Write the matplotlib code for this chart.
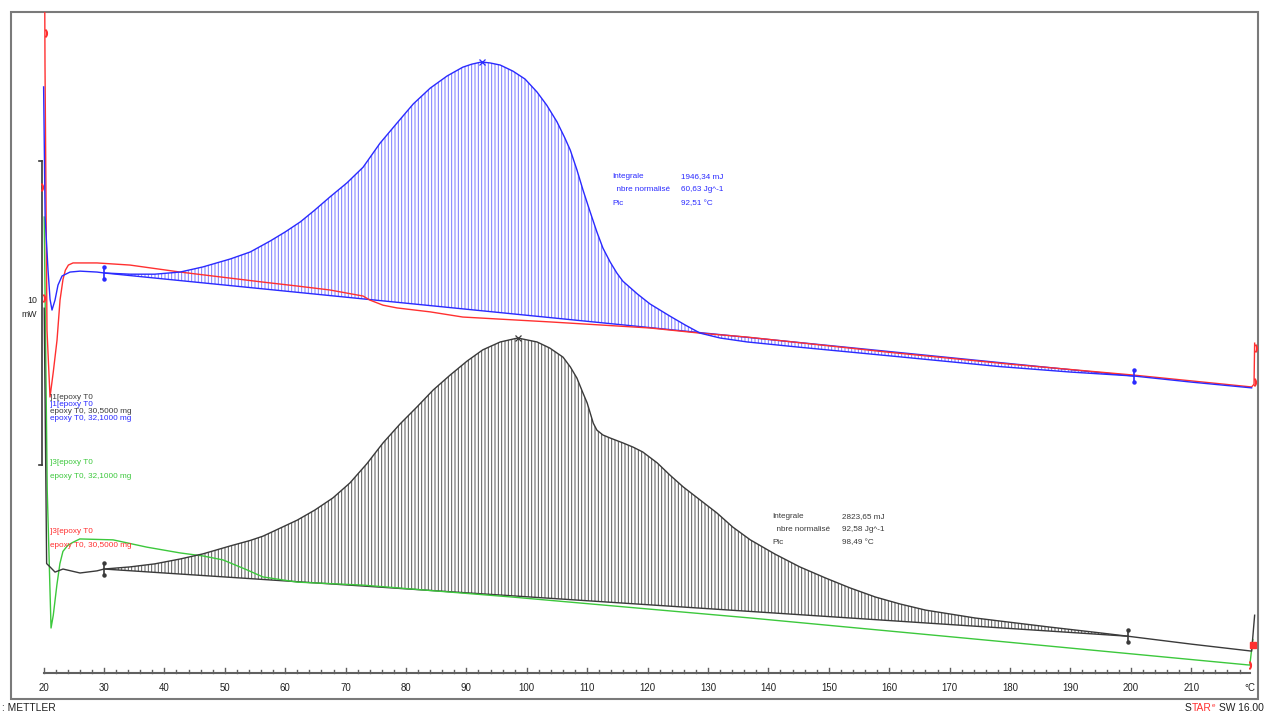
import numpy as np
import matplotlib
matplotlib.use("Agg")
import matplotlib.pyplot as plt
from matplotlib.patches import Rectangle

# ---------------- data (temperature in °C, heat flow in mW, arbitrary offsets) -------------
blue_T = [20.0, 20.25, 20.73, 21.06, 21.39, 21.89, 22.38, 23.05, 24.37, 26.03, 28.84, 30.0,
          34.3, 38.4, 42.6, 46.4, 50.9, 54.2, 57.5, 60.0, 62.5, 64.9, 67.4, 70.2, 72.9, 75.7,
          78.5, 81.2, 84.0, 86.8, 89.4, 90.9, 92.5, 93.9, 95.6, 97.7, 99.7, 101.7, 103.3,
          105.0, 106.3, 107.2, 108.3, 109.3, 110.5, 111.6, 112.6, 113.8, 114.9, 115.9, 118.3,
          120.4, 123.7, 126.2, 128.7, 132.0, 136.5, 145.0, 161.8, 178.3, 190.0, 200.5, 210.0,
          220.0]
blue_mW = [19.28, 15.0, 13.26, 12.3, 11.94, 12.27, 12.76, 13.06, 13.19, 13.22, 13.19, 13.16,
           13.12, 13.12, 13.19, 13.36, 13.62, 13.85, 14.21, 14.51, 14.84, 15.23, 15.66, 16.12,
           16.64, 17.43, 18.09, 18.72, 19.24, 19.64, 19.93, 20.03, 20.10, 20.07, 20.0, 19.80,
           19.54, 19.11, 18.68, 18.13, 17.60, 17.20, 16.55, 15.89, 15.16, 14.51, 13.98, 13.52,
           13.16, 12.89, 12.47, 12.14, 11.74, 11.45, 11.18, 11.02, 10.89, 10.72, 10.40, 10.08,
           9.90, 9.77, 9.57, 9.38]

red_T = [20.15, 20.23, 20.56, 21.06, 21.6, 22.22, 22.72, 23.21, 23.6, 24.1, 24.87, 28.84, 34.3,
         42.6, 56.3, 62.0, 67.4, 72.9, 74.0, 76.2, 78.5, 84.0, 89.4, 103.8, 120.4, 128.7,
         136.5, 160.0, 180.0, 200.5, 220.0, 220.4, 220.5]
red_mW = [24.0, 20.0, 11.28, 9.08, 9.9, 10.95, 12.27, 12.95, 13.25, 13.42, 13.49, 13.49, 13.42,
          13.19, 12.86, 12.73, 12.60, 12.40, 12.27, 12.10, 12.01, 11.88, 11.71, 11.55, 11.35,
          11.18, 11.05, 10.55, 10.16, 9.80, 9.41, 9.5, 10.85]

black_T = [20.1, 20.5, 21.06, 21.89, 23.21, 26.03, 28.84, 30.0, 34.3, 38.4, 42.6, 46.4, 50.9,
           54.2, 56.3, 59.1, 62.0, 64.9, 67.9, 70.7, 73.5, 76.2, 79.0, 81.8, 84.5, 87.3, 90.1,
           92.7, 95.6, 98.5, 101.7, 103.8, 106.0, 107.2, 108.3, 109.3, 110.0, 110.5, 111.0,
           111.6, 112.6, 113.8, 115.9, 117.6, 119.2, 121.6, 123.7, 125.9, 128.7, 131.5, 134.1,
           137.0, 141.1, 145.2, 149.4, 153.5, 157.7, 161.8, 166.0, 170.1, 174.2, 178.3, 186.6,
           194.9, 199.5, 210.0, 220.0, 220.5]
black_mW = [12.0, 3.6, 3.49, 3.32, 3.42, 3.29, 3.36, 3.42, 3.49, 3.59, 3.75, 3.92, 4.18,
            4.36, 4.50, 4.76, 5.03, 5.36, 5.76, 6.25, 6.88, 7.57, 8.19, 8.75, 9.31, 9.80, 10.26,
            10.63, 10.89, 11.02, 10.89, 10.69, 10.39, 10.07, 9.70, 9.21, 8.88, 8.55, 8.22, 7.99,
            7.83, 7.73, 7.57, 7.43, 7.27, 6.91, 6.51, 6.12, 5.69, 5.26, 4.80, 4.38, 3.91, 3.49,
            3.13, 2.80, 2.50, 2.27, 2.07, 1.94, 1.81, 1.71, 1.51, 1.32, 1.21, 0.95, 0.72, 1.9]

green_T = [20.1, 20.6, 21.23, 21.6, 22.2, 22.7, 23.2, 24.0, 24.87, 26.0, 31.5, 37.1, 42.6,
           46.4, 49.7, 53.7, 56.3, 62.0, 72.9, 97.5, 137.0, 178.3, 219.7, 220.2]
green_mW = [15.0, 6.0, 1.48, 1.9, 2.9, 3.6, 4.0, 4.2, 4.3, 4.41, 4.38, 4.14, 3.95, 3.85,
            3.72, 3.39, 3.16, 2.99, 2.89, 2.50, 1.81, 1.04, 0.26, 1.1]

blue_lim_T = [30.0, 200.5]
blue_lim_mW = [13.16, 9.77]
black_lim_T = [30.0, 199.5]
black_lim_mW = [3.42, 1.21]
blue_peak = (92.5, 20.10)
black_peak = (98.5, 11.02)

blue_result_labels = ["Integrale", "  nbre normalisé", "Pic"]
blue_result_values = ["1946,34 mJ", "60,63 Jg^-1", "92,51 °C"]
black_result_labels = ["Integrale", "  nbre normalisé", "Pic"]
black_result_values = ["2823,65 mJ", "92,58 Jg^-1", "98,49 °C"]

x_major = list(range(20, 220, 10))
x_minor = list(range(20, 220, 2))

# ---------------- styles ----------------
C_BLUE = "#2a2aff"
C_BLUE_H = "#7878ff"
C_RED = "#ff3030"
C_BLACK = "#3a3a3a"
C_BLACK_H = "#555555"
C_GREEN = "#3cc83c"
C_FRAME = "#7a7a7a"
FONT = ["Liberation Sans", "DejaVu Sans"]
SMALL = 5.9

plt.rcParams["hatch.linewidth"] = 0.7

fig = plt.figure(figsize=(12.64, 7.14), dpi=100)
ax = fig.add_axes([0, 0, 1, 1])
ax.set_xlim(12.78, 222.05)
ax.set_ylim(-1.349, 22.14)
ax.axis("off")

# frame (plot area)
frame = Rectangle((14.6, -0.85), 221.0 - 14.6, 21.74 + 0.85, facecolor="none",
                  edgecolor=C_FRAME, lw=1.5, zorder=1)
ax.add_patch(frame)
clip_rect = Rectangle((14.6, -0.85), 221.0 - 14.6, 21.74 + 0.85, transform=ax.transData)


def hatch_area(T, y, limT, limY, color):
    T = np.asarray(T)
    y = np.asarray(y)
    m = (T >= limT[0]) & (T <= limT[1])
    base = np.interp(T[m], limT, limY)
    ax.fill_between(T[m], y[m], base, hatch="|||||", facecolor="none",
                    edgecolor=color, linewidth=0, zorder=2)


hatch_area(blue_T, blue_mW, blue_lim_T, blue_lim_mW, C_BLUE_H)
hatch_area(black_T, black_mW, black_lim_T, black_lim_mW, C_BLACK_H)
ax.plot(blue_lim_T, blue_lim_mW, color=C_BLUE, lw=1.0, zorder=3)
ax.plot(black_lim_T, black_lim_mW, color=C_BLACK, lw=1.0, zorder=3)

for T, y, c in [(green_T, green_mW, C_GREEN), (black_T, black_mW, C_BLACK),
                (red_T, red_mW, C_RED), (blue_T, blue_mW, C_BLUE)]:
    ln, = ax.plot(T, y, color=c, lw=1.0, zorder=4, solid_joinstyle="round")
    ln.set_clip_path(clip_rect)

# integration limit markers
for limT, limY, c in [(blue_lim_T, blue_lim_mW, C_BLUE), (black_lim_T, black_lim_mW, C_BLACK)]:
    for t, v in zip(limT, limY):
        ax.plot([t, t], [v - 0.2, v + 0.2], color=c, lw=1.2, zorder=5)
        ax.plot([t, t], [v - 0.2, v + 0.2], ls="none", marker="o", ms=2.2, color=c, zorder=5)

# peak markers
ax.plot(*blue_peak, marker="x", ms=4, mew=0.9, color=C_BLUE, zorder=5)
ax.plot(*black_peak, marker="x", ms=4, mew=0.9, color=C_BLACK, zorder=5)

# red curve-end markers
for t, v in [(20.4, 21.05), (19.78, 15.99), (20.07, 12.34), (220.7, 10.69), (220.5, 9.57),
             (219.7, 0.26)]:
    ax.plot(t, v, marker="$)$", ms=5, color=C_RED, zorder=6)
ax.plot(220.2, 0.92, marker="s", ms=5, color=C_RED, zorder=6)

# scale bar 10 mW
ax.plot([19.7, 19.7], [6.84, 16.84], color=C_BLACK, lw=1.2, zorder=3)
ax.plot([19.3, 19.7], [16.84, 16.84], color=C_BLACK, lw=1.2, zorder=3)
ax.plot([19.3, 19.7], [6.84, 6.84], color=C_BLACK, lw=1.2, zorder=3)
ax.text(18.9, 12.27, "10", ha="right", va="center", fontsize=6.3, family=FONT, color="#222")
ax.text(18.9, 11.78, "mW", ha="right", va="center", fontsize=6.3, family=FONT, color="#222")

# x axis
ax.plot([20, 219.8], [0, 0], color="#606060", lw=1.5, zorder=3)
for t in x_minor:
    h = 0.17 if t % 10 == 0 else 0.11
    ax.plot([t, t], [0, h], color="#606060", lw=1.0, zorder=3)
for t in x_major:
    ax.text(t, -0.5, str(t), ha="center", va="center", fontsize=6.9, family=FONT, color="#222")
ax.text(219.7, -0.5, "°C", ha="center", va="center", fontsize=6.9, family=FONT, color="#222")

# curve labels
lab = [("]1[epoxy T0", 9.05, C_BLACK), ("]1[epoxy T0", 8.82, C_BLUE),
       ("epoxy T0, 30,5000 mg", 8.59, C_BLACK), ("epoxy T0, 32,1000 mg", 8.36, C_BLUE),
       ("]3[epoxy T0", 6.94, C_GREEN), ("epoxy T0, 32,1000 mg", 6.48, C_GREEN),
       ("]3[epoxy T0", 4.64, C_RED), ("epoxy T0, 30,5000 mg", 4.21, C_RED)]
for s, v, c in lab:
    ax.text(21.0, v, s, ha="left", va="center", fontsize=SMALL, family=FONT, color=c, zorder=7)

# result boxes
for labels, values, x0, x1, ytop, c in [
        (blue_result_labels, blue_result_values, 114.1, 125.5, 16.32, C_BLUE),
        (black_result_labels, black_result_values, 140.6, 152.2, 5.16, C_BLACK)]:
    for i, (a, b) in enumerate(zip(labels, values)):
        y = ytop - i * 0.43
        ax.text(x0, y, a, ha="left", va="center", fontsize=SMALL, family=FONT, color=c)
        ax.text(x1, y, b, ha="left", va="center", fontsize=SMALL, family=FONT, color=c)

# footer
ax.text(13.1, -1.16, ": METTLER", ha="left", va="center", fontsize=7.4, family=FONT,
        color="#222")
t_sw = ax.text(222.0, -1.16, "SW 16.00", ha="right", va="center", fontsize=7.4, family=FONT,
               color="#222")
t_e = ax.annotate("e", xy=(0, 0.5), xycoords=t_sw, xytext=(-2.5, 2.2),
                  textcoords="offset points", ha="right", va="center", fontsize=4.5,
                  family=FONT, color=C_RED)
t_tar = ax.annotate("TAR", xy=(0, 0.5), xycoords=t_e, xytext=(-0.4, -2.2),
                    textcoords="offset points", ha="right", va="center", fontsize=7.4,
                    family=FONT, color=C_RED)
ax.annotate("S", xy=(0, 0.5), xycoords=t_tar, xytext=(0, 0), textcoords="offset points",
            ha="right", va="center", fontsize=7.4, family=FONT, color="#222")

fig.savefig("out.png", dpi=100, facecolor="white")
